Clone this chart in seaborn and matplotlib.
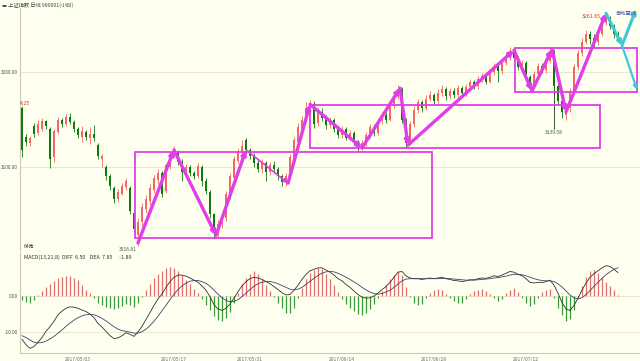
import matplotlib
matplotlib.use("Agg")
import matplotlib.pyplot as plt
import matplotlib.patches as patches
import numpy as np
import pandas as pd
import seaborn as sns

# hourly candles of the index
opens = [3162, 3132, 3125, 3143, 3136, 3140, 3148, 3140, 3110, 3137,
         3150, 3145, 3153, 3147, 3140, 3132, 3137, 3130, 3135, 3123,
         3108, 3100, 3090, 3078, 3066, 3072, 3079, 3078, 3052, 3028,
         3042, 3056, 3064, 3076, 3086, 3094, 3075, 3100, 3113, 3116,
         3105, 3094, 3100, 3094, 3090, 3100, 3085, 3074, 3050, 3030,
         3040, 3046, 3070, 3088, 3106, 3116, 3128, 3118, 3112, 3104,
         3098, 3104, 3095, 3102, 3098, 3090, 3084, 3090, 3108, 3126,
         3140, 3150, 3160, 3166, 3146, 3158, 3152, 3144, 3150, 3140,
         3134, 3140, 3131, 3136, 3126, 3121, 3125, 3134, 3142, 3136,
         3148, 3155, 3150, 3165, 3175, 3182, 3150, 3126, 3145, 3160,
         3168, 3162, 3172, 3176, 3170, 3178, 3182, 3175, 3180, 3176,
         3183, 3178, 3184, 3190, 3185, 3193, 3196, 3190, 3200, 3206,
         3201, 3210, 3216, 3222, 3215, 3205, 3210, 3195, 3185, 3198,
         3206, 3202, 3212, 3218, 3185, 3170, 3155, 3162, 3180, 3205,
         3220, 3232, 3240, 3236, 3232, 3240, 3252, 3256, 3248, 3240]
highs = [3164.25, 3135, 3133, 3146, 3150, 3152, 3150, 3142, 3140, 3153,
         3152, 3156, 3157, 3149, 3142, 3143, 3139, 3142, 3144, 3125,
         3114, 3102, 3093, 3080, 3077, 3083, 3088, 3080, 3054, 3046,
         3062, 3070, 3082, 3092, 3098, 3096, 3104, 3116, 3122, 3118,
         3108, 3103, 3102, 3096, 3104, 3102, 3088, 3076, 3052, 3044,
         3052, 3075, 3094, 3112, 3120, 3128, 3130, 3120, 3115, 3107,
         3108, 3106, 3105, 3106, 3100, 3093, 3094, 3114, 3132, 3146,
         3154, 3168, 3171, 3169, 3162, 3162, 3155, 3153, 3152, 3143,
         3143, 3142, 3139, 3138, 3128, 3128, 3137, 3145, 3145, 3151,
         3158, 3158, 3168, 3178, 3186, 3184, 3152, 3148, 3164, 3172,
         3171, 3176, 3180, 3178, 3182, 3186, 3184, 3183, 3183, 3186,
         3185, 3187, 3193, 3192, 3196, 3199, 3198, 3203, 3209, 3208,
         3213, 3219, 3226, 3225, 3217, 3213, 3212, 3197, 3201, 3210,
         3209, 3215, 3224, 3222, 3188, 3172, 3165, 3183, 3208, 3223,
         3236, 3244, 3243, 3240, 3244, 3256, 3261.65, 3259, 3251, 3243]
lows = [3110, 3122, 3122, 3132, 3134, 3138, 3140, 3099, 3105, 3135,
        3142, 3143, 3145, 3137, 3130, 3126, 3128, 3124, 3127, 3108,
        3100, 3086, 3076, 3062, 3063, 3070, 3076, 3050, 3030, 3016.81,
        3038, 3052, 3060, 3073, 3082, 3068, 3073, 3098, 3110, 3102,
        3085, 3090, 3091, 3087, 3088, 3080, 3072, 3046, 3024, 3026,
        3036, 3043, 3066, 3086, 3104, 3113, 3114, 3108, 3100, 3095,
        3094, 3085, 3092, 3094, 3086, 3080, 3080, 3087, 3105, 3123,
        3137, 3147, 3156, 3141, 3143, 3148, 3140, 3141, 3137, 3131,
        3130, 3128, 3128, 3123, 3117, 3118, 3122, 3131, 3133, 3134,
        3145, 3146, 3148, 3162, 3172, 3146, 3120, 3123, 3142, 3157,
        3158, 3160, 3169, 3166, 3167, 3175, 3171, 3172, 3173, 3173,
        3175, 3175, 3181, 3182, 3182, 3190, 3187, 3188, 3197, 3190,
        3198, 3207, 3213, 3212, 3202, 3202, 3192, 3180, 3183, 3195,
        3199, 3199, 3209, 3139.58, 3165, 3152, 3150, 3158, 3177, 3202,
        3217, 3229, 3230, 3225, 3228, 3238, 3249, 3245, 3236, 3232]
closes = [3118, 3126, 3130, 3135, 3145, 3148, 3143, 3108, 3138, 3150,
          3145, 3153, 3147, 3140, 3134, 3138, 3132, 3135, 3130, 3112,
          3112, 3090, 3080, 3066, 3074, 3080, 3085, 3054, 3035, 3042,
          3058, 3066, 3078, 3088, 3094, 3072, 3102, 3113, 3118, 3105,
          3095, 3100, 3094, 3090, 3101, 3085, 3075, 3050, 3030, 3040,
          3048, 3072, 3090, 3108, 3117, 3122, 3118, 3112, 3104, 3098,
          3104, 3095, 3102, 3098, 3090, 3084, 3090, 3110, 3128, 3142,
          3150, 3162, 3166, 3145, 3158, 3152, 3144, 3150, 3140, 3134,
          3140, 3131, 3136, 3126, 3121, 3125, 3134, 3142, 3136, 3148,
          3155, 3150, 3165, 3175, 3182, 3150, 3125, 3145, 3160, 3168,
          3162, 3172, 3176, 3170, 3178, 3182, 3175, 3180, 3176, 3183,
          3178, 3184, 3190, 3185, 3193, 3196, 3190, 3200, 3206, 3201,
          3210, 3216, 3222, 3215, 3205, 3210, 3195, 3185, 3198, 3206,
          3202, 3212, 3220, 3185, 3170, 3158, 3162, 3180, 3205, 3220,
          3232, 3240, 3235, 3232, 3240, 3252, 3258, 3248, 3240, 3236]

# MACD panel
diff = [-12.0, -13.5, -14.5, -14.0, -12.8, -11.5, -9.8, -8.5, -7.0, -5.2,
        -4.2, -3.4, -3.0, -3.1, -3.4, -3.9, -4.3, -5.0, -6.0, -7.6,
        -8.6, -9.8, -11.0, -11.8, -11.6, -11.0, -10.2, -10.6, -11.2, -10.0,
        -8.4, -6.5, -4.6, -2.6, -0.8, 0.6, 2.4, 4.0, 5.2, 5.8,
        5.8, 5.5, 5.0, 4.4, 3.8, 2.8, 1.6, -0.2, -2.4, -3.6,
        -4.0, -3.4, -2.2, -0.6, 1.2, 2.8, 4.0, 4.8, 5.2, 5.0,
        4.6, 4.0, 3.4, 2.6, 1.8, 0.9, 0.3, 0.4, 1.6, 3.0,
        4.6, 6.0, 7.0, 7.4, 7.8, 7.8, 7.2, 6.6, 5.8, 4.8,
        4.2, 3.2, 2.4, 1.4, 0.4, -0.3, -0.6, -0.5, 0.0, 0.8,
        1.8, 2.6, 3.8, 5.2, 6.6, 6.8, 5.6, 5.0, 4.8, 4.8,
        4.6, 4.8, 5.0, 4.8, 5.0, 5.2, 4.8, 4.6, 4.3, 4.2,
        4.0, 4.2, 4.5, 4.5, 4.8, 5.0, 4.9, 5.2, 5.6, 5.4,
        5.8, 6.3, 6.8, 6.6, 6.0, 5.6, 4.8, 3.8, 3.6, 3.8,
        3.7, 4.0, 4.4, 3.0, 0.8, -1.8, -3.6, -4.0, -2.6, -0.6,
        1.6, 3.6, 5.2, 6.2, 7.0, 7.8, 8.4, 8.2, 7.4, 6.5]
dea = [-11.0, -11.5, -12.2, -12.8, -13.0, -12.9, -12.5, -11.9, -11.2, -10.3,
       -9.4, -8.4, -7.5, -6.7, -6.0, -5.5, -5.2, -5.1, -5.2, -5.6,
       -6.2, -6.9, -7.7, -8.5, -9.2, -9.6, -9.8, -10.0, -10.3, -10.3,
       -9.9, -9.2, -8.2, -7.0, -5.6, -4.1, -2.6, -1.0, 0.5, 1.8,
       2.8, 3.6, 4.1, 4.3, 4.3, 4.0, 3.5, 2.7, 1.6, 0.5,
       -0.5, -1.2, -1.6, -1.5, -1.0, -0.2, 0.8, 1.8, 2.7, 3.4,
       3.8, 4.0, 4.0, 3.8, 3.4, 2.9, 2.4, 1.9, 1.7, 1.9,
       2.4, 3.2, 4.1, 4.9, 5.7, 6.3, 6.7, 6.8, 6.7, 6.3,
       5.8, 5.2, 4.6, 3.9, 3.2, 2.4, 1.7, 1.1, 0.7, 0.5,
       0.7, 1.1, 1.6, 2.4, 3.3, 4.2, 4.7, 4.8, 4.8, 4.8,
       4.8, 4.8, 4.8, 4.8, 4.8, 4.9, 4.9, 4.8, 4.7, 4.6,
       4.5, 4.4, 4.4, 4.4, 4.5, 4.6, 4.7, 4.8, 5.0, 5.1,
       5.3, 5.5, 5.8, 6.0, 6.0, 5.9, 5.6, 5.2, 4.8, 4.5,
       4.3, 4.2, 4.2, 4.0, 3.4, 2.5, 1.4, 0.3, -0.5, -0.8,
       -0.5, 0.4, 1.5, 2.7, 3.8, 4.9, 5.9, 6.7, 7.4, 7.85]
macd_hist = [-1.0, -1.6, -1.8, -1.2, 0.4, 1.4, 2.6, 3.4, 4.2, 5.0,
             5.4, 5.6, 5.6, 5.0, 4.4, 3.0, 1.8, 0.8, -0.6, -1.8,
             -2.4, -3.0, -3.4, -3.6, -3.4, -2.8, -2.2, -2.4, -3.0, -2.0,
             -0.4, 1.6, 3.4, 5.0, 6.2, 7.0, 7.8, 8.0, 7.8, 7.0,
             5.8, 4.4, 3.2, 2.0, 0.8, -0.8, -2.4, -4.0, -5.6, -6.6,
             -6.8, -6.0, -4.4, -2.0, 0.8, 3.2, 5.0, 6.2, 6.8, 6.0,
             4.8, 3.0, 1.4, -0.4, -2.0, -3.4, -4.6, -4.8, -3.2, -0.6,
             2.2, 4.6, 6.4, 7.2, 7.8, 7.4, 6.2, 4.6, 3.0, 1.0,
             -0.8, -2.2, -3.4, -4.2, -5.0, -5.2, -4.8, -3.6, -2.2, -0.6,
             1.4, 3.0, 4.6, 5.8, 6.8, 5.8, 2.6, -0.4, -1.8, -2.6,
             -2.2, -0.6, 0.8, 1.6, 2.0, 1.6, 0.6, -0.6, -1.4, -2.0,
             -1.8, -0.8, 0.6, 1.4, 1.8, 2.0, 1.4, 0.6, -0.6, -1.4,
             -0.8, 0.8, 1.8, 2.2, 1.0, -0.6, -2.0, -2.8, -2.2, -0.6,
             1.0, 1.8, 2.0, -0.6, -3.2, -5.4, -6.8, -6.4, -4.0, -0.6,
             2.8, 5.2, 6.8, 7.2, 6.4, 5.2, 4.0, 2.8, 1.6, 0.4]

date_pos = [14, 38, 57, 80, 103, 126]
date_labels = ["2017/05/03", "2017/05/17", "2017/05/31",
               "2017/06/14", "2017/06/28", "2017/07/12"]

# hand drawn wave lines: (bar, price) pivots
wave_pts = [(29, 3020), (38, 3118), (48.5, 3028), (56, 3118), (66.5, 3083),
            (72, 3166), (85, 3120), (94.5, 3183), (96.5, 3123), (123, 3223),
            (127.5, 3180), (132.5, 3224), (136, 3158), (146, 3262)]
proj_pts = [(146, 3262), (150, 3228), (153.5, 3266)]
proj_down = [(150, 3228), (153.8, 3181)]
# boxes: start bar, end bar, low, high
boxes = [(28.3, 102.5, 3025, 3116), (72, 144.5, 3120, 3165), (123.2, 153.8, 3179, 3225)]

BG = "#fffff0"
UP = "#f06868"
DOWN = "#107a10"
MAG = "#e03ee8"
CYAN = "#3cc8d8"

sns.set_style("white")
plt.rcParams["font.family"] = ["Noto Sans CJK SC", "DejaVu Sans"]

df = pd.DataFrame({"open": opens, "high": highs, "low": lows, "close": closes,
                   "diff": diff, "dea": dea, "hist": macd_hist})
df["bar"] = np.arange(len(df))
up = df["close"] >= df["open"]

fig = plt.figure(figsize=(6.4, 3.61), dpi=100, facecolor=BG)
ax = fig.add_axes([20 / 640, 1 - 250 / 361, 620 / 640, 242 / 361], facecolor=BG)
ax2 = fig.add_axes([20 / 640, 1 - 353 / 361, 620 / 640, 101 / 361], facecolor=BG)

# candles
cols = np.where(up, UP, DOWN)
ax.vlines(df["bar"], df["low"], df["high"], colors=cols, lw=0.6, zorder=2)
body_lo = df[["open", "close"]].min(axis=1)
body_h = (df["close"] - df["open"]).abs().clip(lower=0.6)
ax.bar(df["bar"], body_h, bottom=body_lo, width=0.62, color=cols, lw=0, zorder=3)

# boxes and wave arrows
for x0, x1, lo, hi in boxes:
    ax.add_patch(patches.Rectangle((x0, lo), x1 - x0, hi - lo, fill=False,
                                   ec=MAG, lw=1.3, zorder=4))
for (xa, ya), (xb, yb) in zip(wave_pts[:-1], wave_pts[1:]):
    thin = xa == 56
    ax.annotate("", xy=(xb, yb), xytext=(xa, ya),
                arrowprops=dict(arrowstyle="-|>", color=MAG, lw=1.2 if thin else 2.4,
                                mutation_scale=6, shrinkA=0, shrinkB=0), zorder=5)
for (xa, ya), (xb, yb) in zip(proj_pts[:-1], proj_pts[1:]):
    ax.annotate("", xy=(xb, yb), xytext=(xa, ya),
                arrowprops=dict(arrowstyle="-|>", color=CYAN, lw=2.2,
                                mutation_scale=6, shrinkA=0, shrinkB=0), zorder=5)
(xa, ya), (xb, yb) = proj_down
ax.annotate("", xy=(xb, yb), xytext=(xa, ya),
            arrowprops=dict(arrowstyle="-|>", color=CYAN, lw=1.6,
                            mutation_scale=6, shrinkA=0, shrinkB=0), zorder=5)

ax.set_xlim(-0.5, 154.5)
ax.set_ylim(3012.6, 3267.4)
ax.set_yticks([3100, 3200])
ax.set_yticklabels(["3100.00", "3200.00"])
ax.set_xticks([])
ax.grid(axis="y", color="#e4e4cc", lw=0.6)
ax.tick_params(axis="y", length=0, labelsize=3.4, pad=1.5, colors="#505050")
for s in ["top", "right", "bottom"]:
    ax.spines[s].set_visible(False)
ax.spines["left"].set_color("#c8c8b4")
ax.spines["left"].set_linewidth(0.8)

# price labels
i_lo = int(df["low"].idxmin())
i_hi = int(df["high"].idxmax())
ax.text(i_lo - 0.3, df["low"][i_lo] - 1, f"{df['low'][i_lo]:.2f}", fontsize=3.6,
        color="#406040", ha="right", va="top")
ax.text(i_hi - 1.2, df["high"][i_hi] - 3, f"{df['high'][i_hi]:.2f}", fontsize=3.8,
        color="#d03030", ha="right", va="center")
ax.text(133, 3139.58 - 1, "3139.58", fontsize=3.6, color="#406040", ha="center", va="top")
ax.text(-0.4, highs[0], "4.25", fontsize=3.8, color="#d03030", ha="left", va="bottom")
ax.vlines([133], 3139.58, 3224, colors="#404040", lw=0.5, zorder=2)
ax.text(0.5, 3014, "64秀", fontsize=3.6, color="#404040", ha="left", va="bottom")
ax.text(153.5, 3262, "自动画线", fontsize=3.8, color="#4050a0", ha="right", va="center",
        zorder=6)

# MACD
hcols = np.where(df["hist"] >= 0, "#e07070", "#3a9a3a")
ax2.vlines(df["bar"], 0, df["hist"], colors=hcols, lw=0.9)
sns.lineplot(x=df["bar"], y=df["diff"], ax=ax2, color="#303030", lw=0.6)
sns.lineplot(x=df["bar"], y=df["dea"], ax=ax2, color="#404070", lw=0.6)
ax2.set_xlim(-0.5, 154.5)
ax2.set_ylim(-15.8, 12.2)
ax2.set_yticks([-10, 0])
ax2.set_yticklabels(["-10.00", "0.00"])
ax2.set_xticks(date_pos)
ax2.set_xticklabels(date_labels)
ax2.set_xlabel("")
ax2.set_ylabel("")
ax2.grid(axis="y", color="#e4e4cc", lw=0.6)
ax2.tick_params(axis="y", length=0, labelsize=3.4, pad=1.5, colors="#505050")
ax2.tick_params(axis="x", length=2, width=0.5, labelsize=3.6, pad=1, colors="#707070")
for s in ["top", "right"]:
    ax2.spines[s].set_visible(False)
for s in ["left", "bottom"]:
    ax2.spines[s].set_color("#c8c8b4")
    ax2.spines[s].set_linewidth(0.8)
ax2.text(0.5, 11.6, "MACD(13,21,8)  DIFF  6.50    DEA  7.85      -1.89", fontsize=3.8,
         color="#303030", ha="left", va="top")

fig.text(2 / 640, 1 - 5 / 361, "▬ 上证指数 日线 999001(小时)", fontsize=3.8,
         color="#404040", ha="left", va="center")

fig.savefig("out.png", dpi=100, facecolor=BG)
